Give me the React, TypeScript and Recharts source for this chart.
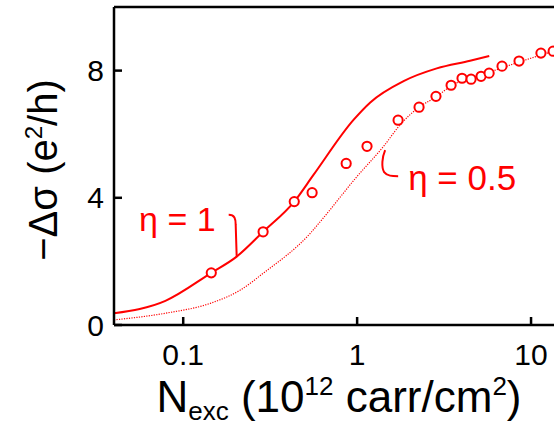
import React from "react";
import {
  ComposedChart,
  Line,
  Scatter,
  XAxis,
  YAxis,
  ReferenceLine,
  ReferenceDot,
} from "recharts";

const RED = "#ff0000";
const FONT = "'Liberation Sans', Arial, Helvetica, sans-serif";

// measured points: N_exc (10^12 carr/cm^2) vs -dSigma (e^2/h)
const expN = [0.145, 0.288, 0.435, 0.551, 0.865, 1.14, 1.72, 2.27, 2.84, 3.47, 4.01, 4.52, 5.16, 5.74, 6.81, 8.53, 11.4, 13.4];
const expSigma = [1.64, 2.93, 3.88, 4.16, 5.08, 5.62, 6.44, 6.85, 7.19, 7.54, 7.76, 7.73, 7.82, 7.92, 8.14, 8.3, 8.55, 8.61];

// model, eta = 1 (solid)
const eta1N = [0.04, 0.079, 0.145, 0.203, 0.288, 0.435, 0.561, 0.953, 1.19, 1.85, 2.87, 4.46, 5.75];
const eta1Sigma = [0.37, 0.76, 1.64, 2.15, 2.93, 3.88, 4.72, 6.45, 7.0, 7.67, 8.07, 8.31, 8.46];

// model, eta = 0.5 (dotted)
const eta05N = [0.04, 0.079, 0.143, 0.213, 0.289, 0.537, 0.64, 0.995, 1.42, 1.77, 2.27, 2.84, 3.47, 5.56, 10.8, 14];
const eta05Sigma = [0.16, 0.37, 0.68, 1.1, 1.63, 2.88, 3.37, 4.66, 5.62, 6.3, 6.85, 7.17, 7.52, 7.92, 8.45, 8.64];

const xTicks = [0.1, 1, 10];
const yTicks = [0, 4, 8];

const zip = (xs: number[], ys: number[]) => xs.map((x, i) => ({ x, y: ys[i] }));

const expData = zip(expN, expSigma);
const eta1Data = zip(eta1N, eta1Sigma);
const eta05Data = zip(eta05N, eta05Sigma);

const axisStroke = { stroke: "#000", strokeWidth: 2.5 };
const tickStyle = { fill: "#000", fontSize: 30, fontFamily: FONT };

const XTitle = ({ viewBox }: any) => {
  const cx = viewBox.x + 225;
  return (
    <text x={cx} y={412} textAnchor="middle" fontFamily={FONT} fontSize={44} fill="#000">
      N<tspan fontSize={26} dy={8}>exc</tspan>
      <tspan dy={-8}> (10</tspan>
      <tspan fontSize={26} dy={-17}>12</tspan>
      <tspan dy={17}> carr/cm</tspan>
      <tspan fontSize={26} dy={-17}>2</tspan>
      <tspan dy={17}>)</tspan>
    </text>
  );
};

const YTitle = () => (
  <text
    x={57}
    y={170}
    transform="rotate(-90, 57, 170)"
    textAnchor="middle"
    fontFamily={FONT}
    fontSize={40}
    fill="#000"
  >
    −Δσ (e<tspan fontSize={24} dy={-15}>2</tspan>
    <tspan dy={15}>/h)</tspan>
  </text>
);

const Circle = (p: any) => (
  <circle cx={p.cx} cy={p.cy} r={4.6} fill="#fff" stroke={RED} strokeWidth={2} />
);

// bracket + label for eta = 1, tip sits on the solid curve
const Eta1Note = ({ cx, cy }: any) => (
  <g>
    <path
      d={`M ${cx - 8} ${cy - 42} C ${cx - 2} ${cy - 42} ${cx - 1} ${cy - 38} ${cx - 1} ${cy - 32} L ${cx} ${cy}`}
      fill="none"
      stroke={RED}
      strokeWidth={2}
    />
    <text x={cx - 21} y={cy - 26} textAnchor="end" fontFamily={FONT} fontSize={34} fill={RED}>
      η = 1
    </text>
  </g>
);

// bracket + label for eta = 0.5, tip sits on the dotted curve
const Eta05Note = ({ cx, cy }: any) => (
  <g>
    <path
      d={`M ${cx + 1} ${cy + 1} C ${cx - 2} ${cy + 8} ${cx - 3} ${cy + 18} ${cx} ${cy + 23} C ${cx + 3} ${cy + 27} ${cx + 8} ${cy + 27} ${cx + 14} ${cy + 27}`}
      fill="none"
      stroke={RED}
      strokeWidth={2}
    />
    <text x={cx + 24} y={cy + 41} fontFamily={FONT} fontSize={35} fill={RED}>
      η = 0.5
    </text>
  </g>
);

export default function App() {
  return (
    <div
      style={{
        position: "absolute",
        left: 0,
        top: 0,
        width: 554,
        height: 427,
        overflow: "hidden",
        background: "#fff",
      }}
    >
      <ComposedChart width={600} height={427} margin={{ top: 7, right: 16.6, bottom: 0, left: 0 }}>
        <XAxis
          dataKey="x"
          type="number"
          scale="log"
          domain={[0.04, 20]}
          allowDataOverflow
          ticks={xTicks}
          tickFormatter={(v: number) => String(v)}
          height={102}
          axisLine={axisStroke}
          tickLine={axisStroke}
          tickSize={-8}
          tickMargin={27}
          tick={tickStyle}
          label={<XTitle />}
        />
        <YAxis
          dataKey="y"
          type="number"
          domain={[0, 10]}
          ticks={yTicks}
          width={114}
          axisLine={axisStroke}
          tickLine={axisStroke}
          tickSize={-8}
          tickMargin={18}
          tick={tickStyle}
          label={<YTitle />}
        />
        <ReferenceLine y={10} stroke="#000" strokeWidth={2.5} />
        <Line
          data={eta05Data}
          dataKey="y"
          type="monotone"
          stroke={RED}
          strokeWidth={1.2}
          strokeDasharray="1.2 1.3"
          dot={false}
          isAnimationActive={false}
        />
        <Line
          data={eta1Data}
          dataKey="y"
          type="monotone"
          stroke={RED}
          strokeWidth={2}
          dot={false}
          isAnimationActive={false}
        />
        <Scatter data={expData} dataKey="y" shape={<Circle />} isAnimationActive={false} />
        <ReferenceDot x={0.203} y={2.15} r={0} shape={<Eta1Note />} />
        <ReferenceDot x={1.43} y={5.53} r={0} shape={<Eta05Note />} />
      </ComposedChart>
    </div>
  );
}
